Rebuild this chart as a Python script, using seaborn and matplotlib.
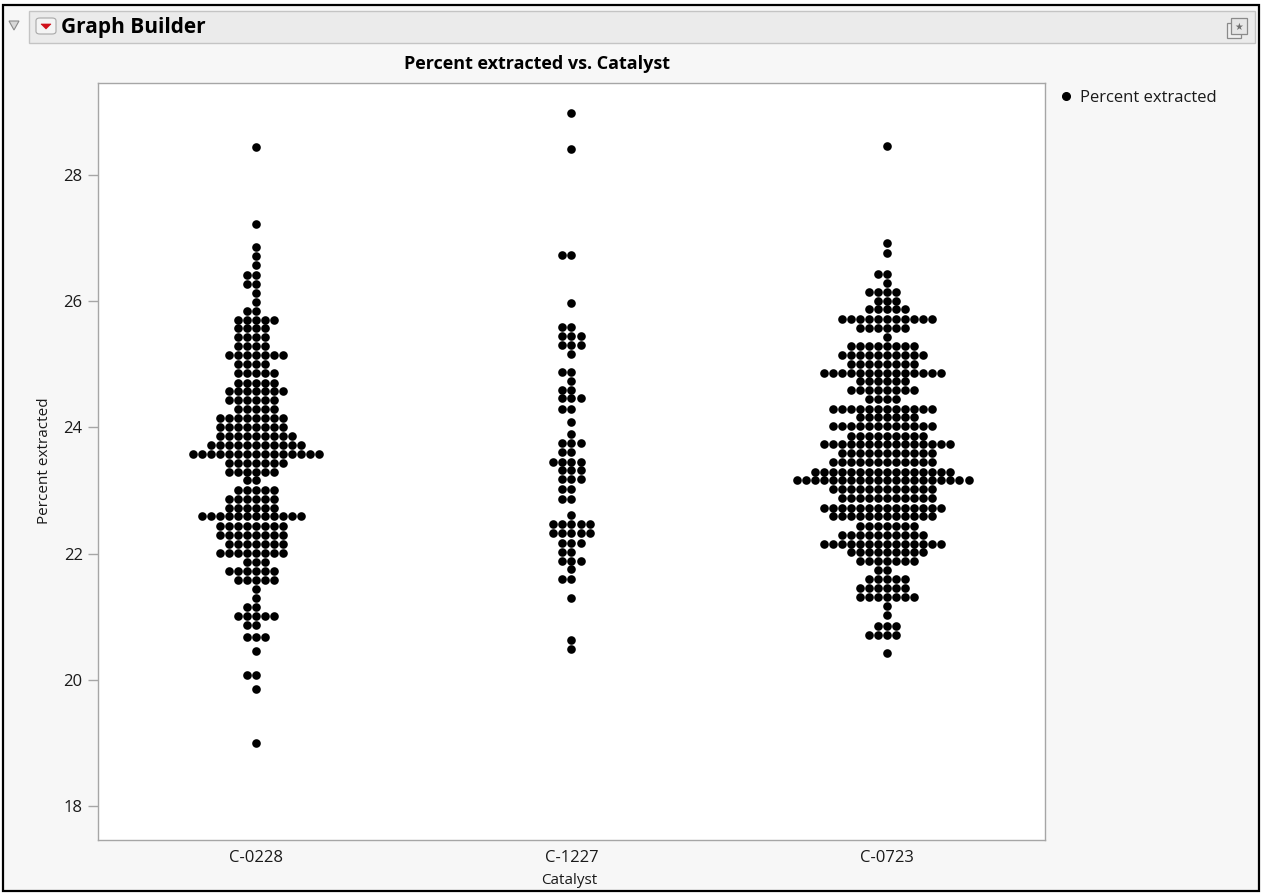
import numpy as np
import pandas as pd
import matplotlib
matplotlib.use("Agg")
import matplotlib.pyplot as plt
import seaborn as sns
from matplotlib.patches import Rectangle, Polygon, FancyBboxPatch
from matplotlib.lines import Line2D

# ---------------- data (row value, dots in row) ----------------
categories = ["C-0228", "C-1227", "C-0723"]

c0228_values = [28.45, 27.23, 26.86, 26.72, 26.57, 26.42, 26.28, 26.13, 25.99, 25.85,
                25.71, 25.57, 25.43, 25.29, 25.15, 25.00, 24.86, 24.71, 24.57, 24.43,
                24.29, 24.15, 24.01, 23.87, 23.72, 23.58, 23.44, 23.30, 23.16, 23.01,
                22.87, 22.73, 22.59, 22.44, 22.29, 22.15, 22.01, 21.87, 21.72, 21.58,
                21.44, 21.30, 21.15, 21.01, 20.87, 20.68, 20.46, 20.07, 19.86, 19.00]
c0228_counts = [1, 1, 1, 1, 1, 2, 2, 1, 1, 2,
                5, 4, 4, 4, 7, 4, 5, 5, 7, 6,
                5, 8, 8, 9, 11, 15, 7, 6, 2, 5,
                6, 6, 12, 8, 8, 7, 8, 3, 6, 5,
                1, 1, 2, 5, 2, 3, 1, 2, 1, 1]

c1227_values = [28.99, 28.42, 26.73, 25.97, 25.60, 25.45, 25.31, 25.16, 24.88, 24.74,
                24.60, 24.46, 24.29, 24.09, 23.90, 23.75, 23.61, 23.46, 23.32, 23.18,
                23.03, 22.86, 22.61, 22.47, 22.32, 22.17, 22.03, 21.89, 21.75, 21.59,
                21.29, 20.63, 20.48]
c1227_counts = [1, 1, 2, 1, 2, 3, 3, 1, 2, 1,
                2, 3, 2, 1, 1, 3, 2, 4, 3, 3,
                2, 2, 1, 5, 5, 3, 2, 3, 1, 2,
                1, 1, 1]

c0723_values = [28.46, 26.93, 26.77, 26.44, 26.29, 26.15, 26.01, 25.87, 25.72, 25.58,
                25.44, 25.29, 25.15, 25.01, 24.87, 24.73, 24.59, 24.45, 24.30, 24.16,
                24.02, 23.87, 23.73, 23.59, 23.45, 23.30, 23.16, 23.02, 22.88, 22.73,
                22.59, 22.44, 22.30, 22.16, 22.02, 21.88, 21.74, 21.60, 21.46, 21.31,
                21.17, 21.03, 20.85, 20.71, 20.43]
c0723_counts = [1, 1, 1, 2, 1, 4, 3, 5, 11, 6,
                1, 8, 10, 8, 14, 6, 8, 4, 12, 7,
                12, 9, 15, 11, 12, 16, 20, 12, 11, 14,
                12, 7, 10, 14, 9, 7, 2, 5, 6, 7,
                1, 1, 3, 4, 1]

y_ticks = [18, 20, 22, 24, 26, 28]

# ---------------- build table ----------------
frames = []
for cat, vals, cnts in [(categories[0], c0228_values, c0228_counts),
                        (categories[1], c1227_values, c1227_counts),
                        (categories[2], c0723_values, c0723_counts)]:
    frames.append(pd.DataFrame({"Catalyst": cat,
                                "Percent extracted": np.repeat(vals, cnts)}))
df = pd.concat(frames, ignore_index=True)

# ---------------- figure ----------------
sns.set_theme(style="white")
plt.rcParams['font.family'] = ['Open Sans', 'DejaVu Sans']

W, H = 1264, 894
fig = plt.figure(figsize=(W / 100, H / 100), dpi=100)
fig.patch.set_facecolor('white')

def fx(x):
    return x / W

def fy(y):
    return 1 - y / H

# window body + border
fig.add_artist(Rectangle((fx(3), fy(891)), (1259 - 3) / W, (891 - 5) / H,
                         transform=fig.transFigure, facecolor='#f7f7f7',
                         edgecolor='black', lw=1.6, zorder=0))
# header bar
fig.add_artist(Rectangle((fx(29), fy(43)), (1255 - 29) / W, (43 - 11) / H,
                         transform=fig.transFigure, facecolor='#ebebeb',
                         edgecolor='#c4c4c4', lw=1.0, zorder=1))
# disclosure triangle
fig.add_artist(Polygon([(fx(9), fy(21)), (fx(19), fy(21)), (fx(14), fy(30))],
                       closed=True, transform=fig.transFigure,
                       facecolor='#d8d8d8', edgecolor='#8a8a8a', lw=0.8, zorder=2))
# red popup button
fig.add_artist(FancyBboxPatch((fx(36), fy(34)), 20 / W, 16 / H,
                              boxstyle="round,pad=0,rounding_size=0.003",
                              transform=fig.transFigure, facecolor='#f4f4f4',
                              edgecolor='#a8a8a8', lw=0.8, zorder=2))
fig.add_artist(Polygon([(fx(41), fy(24)), (fx(51), fy(24)), (fx(46), fy(29))],
                       closed=True, transform=fig.transFigure,
                       facecolor='#d0101a', edgecolor='#d0101a', lw=0.5, zorder=3))
fig.text(fx(61), fy(27), "Graph Builder", ha='left', va='center',
         fontsize=15, fontweight='bold', color='black', zorder=3)
# top-right icon (two stacked squares with a star)
fig.add_artist(Rectangle((fx(1227), fy(38)), 14 / W, 15 / H,
                         transform=fig.transFigure, facecolor='#f0f0f0',
                         edgecolor='#8a8a8a', lw=0.9, zorder=2))
fig.add_artist(Rectangle((fx(1231), fy(34)), 16 / W, 16 / H,
                         transform=fig.transFigure, facecolor='#e6e6e6',
                         edgecolor='#8a8a8a', lw=0.9, zorder=3))
fig.text(fx(1239), fy(26.5), "\u2605", ha='center', va='center', fontsize=7,
         color='#707070', family=['DejaVu Sans'], zorder=4)

# plot axes
ax = fig.add_axes([fx(98), fy(840), (1045 - 98) / W, (840 - 83) / H])
ax.set_facecolor('white')

sns.swarmplot(data=df, x="Catalyst", y="Percent extracted", order=categories,
              color='black', size=6.2, linewidth=0, ax=ax, warn_thresh=1.0)

ax.set_xlim(-0.5, 2.5)
ax.set_ylim(17.46, 29.46)
ax.set_yticks(y_ticks)
ax.set_yticklabels([str(t) for t in y_ticks])
ax.set_xlabel("")
ax.set_ylabel("")
for sp in ax.spines.values():
    sp.set_color('#a6a6a6')
    sp.set_linewidth(1.0)
ax.tick_params(axis='y', direction='out', length=7, width=1.0, color='#a6a6a6',
               labelsize=12, labelcolor='#1a1a1a', pad=4, left=True)
ax.tick_params(axis='x', direction='out', length=0, labelsize=12,
               labelcolor='#1a1a1a', pad=7)

fig.text(fx(537), fy(64), "Percent extracted vs. Catalyst", ha='center', va='center',
         fontsize=13, fontweight='bold', color='black')
fig.text(fx(569), fy(880), "Catalyst", ha='center', va='center',
         fontsize=11, color='#1a1a1a')
fig.text(fx(45), fy(461), "Percent extracted", ha='center', va='center',
         rotation=90, fontsize=11, color='#1a1a1a')

# legend
handle = Line2D([], [], marker='o', linestyle='', color='black', markersize=5.5)
fig.legend([handle], ["Percent extracted"], loc='center left',
           bbox_to_anchor=(fx(1058), fy(98)), frameon=False, fontsize=12,
           handletextpad=0.3, borderpad=0, borderaxespad=0, handlelength=1.0,
           labelcolor='#1a1a1a')

fig.savefig("out.png", dpi=100)
